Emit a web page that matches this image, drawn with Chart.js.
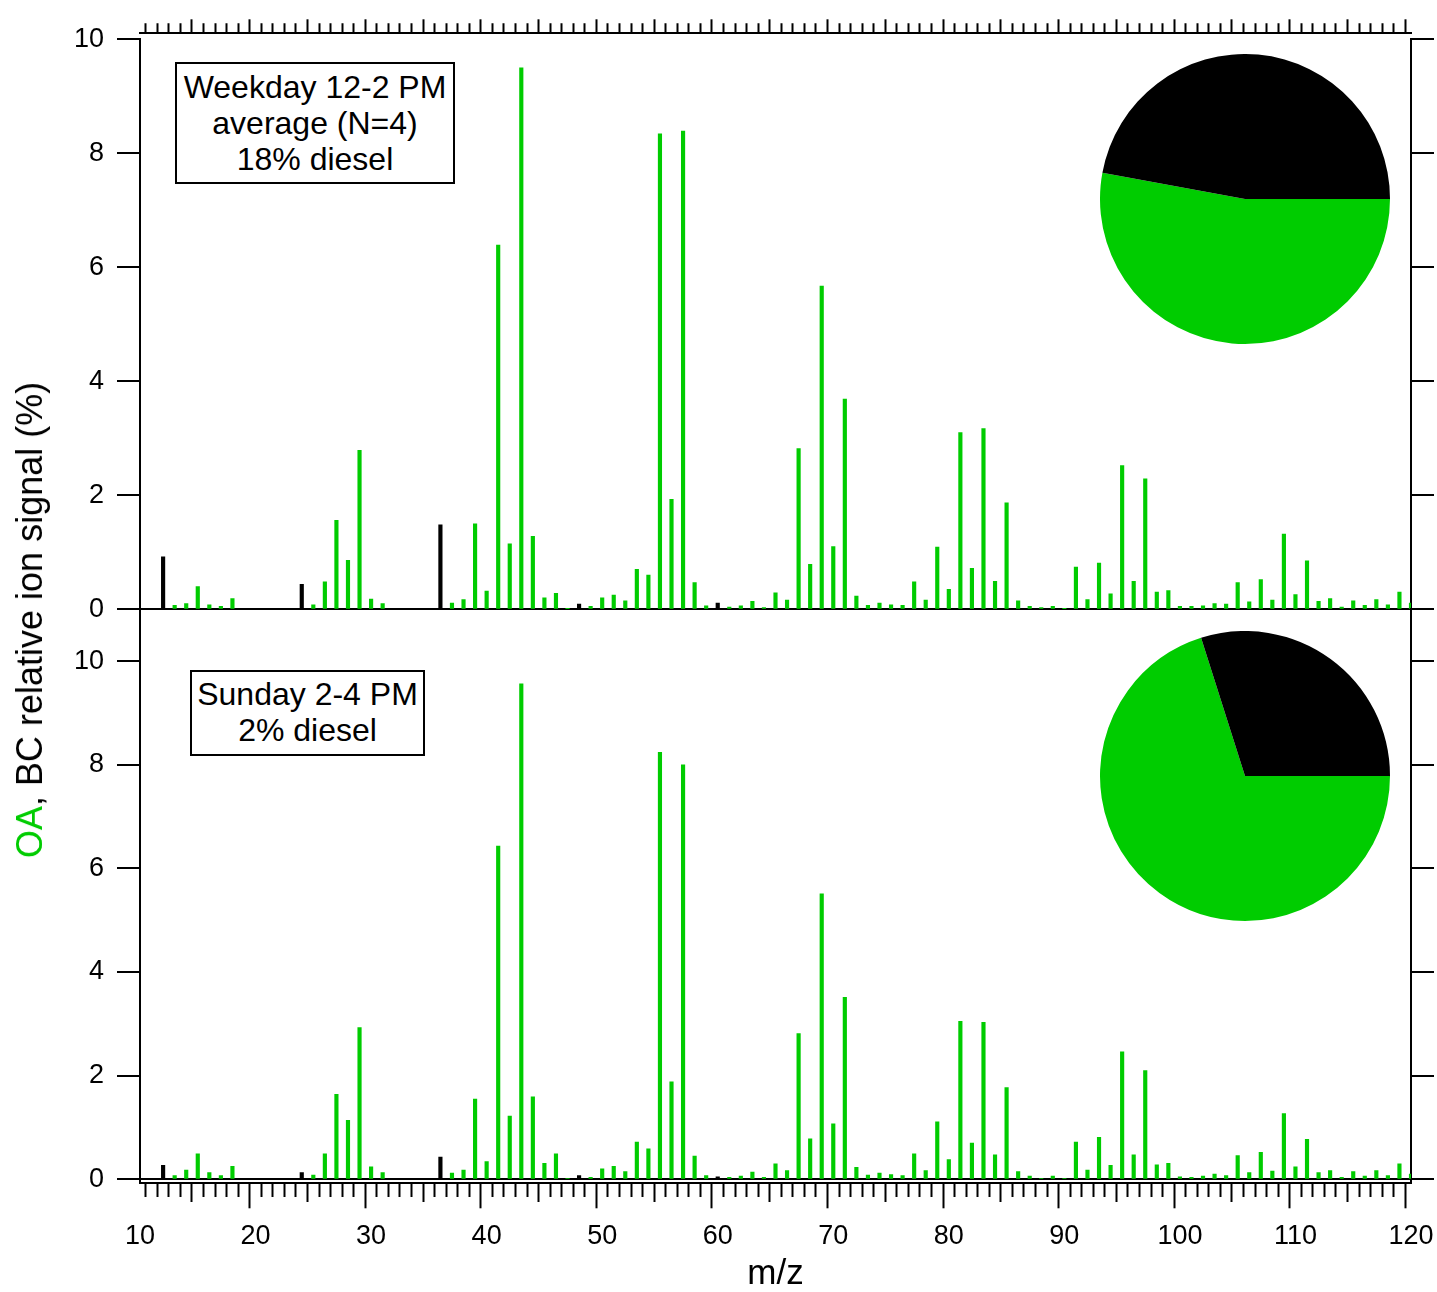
<!DOCTYPE html>
<html>
<head>
<meta charset="utf-8">
<script src="https://cdn.jsdelivr.net/npm/chart.js@4.4.1/dist/chart.umd.min.js"></script>
<style>
html,body{margin:0;padding:0;background:#fff;}
body{width:1437px;height:1292px;position:relative;overflow:hidden;font-family:'Liberation Sans',Arial,Helvetica,sans-serif;color:#000;}
canvas{position:absolute;}
#cTop{left:0;top:0;}
#cBot{left:0;top:580px;}
#pieTop{left:1100px;top:54px;}
#pieBot{left:1100px;top:631px;}
.box{position:absolute;border:2px solid #000;box-sizing:border-box;text-align:center;font-size:32px;line-height:36px;background:#fff;white-space:nowrap;}
#boxTop{left:175px;top:62px;width:280px;height:122px;padding-top:5px;}
#boxBot{left:190px;top:670px;width:235px;height:86px;padding-top:4px;}
#ytitle{position:absolute;left:30px;top:620px;transform:translate(-50%,-50%) rotate(-90deg);white-space:nowrap;font-size:36px;line-height:36px;}
</style>
</head>
<body>
<canvas id="cTop" width="1437" height="640"></canvas>
<canvas id="cBot" width="1437" height="712"></canvas>
<canvas id="pieTop" width="290" height="290"></canvas>
<canvas id="pieBot" width="290" height="290"></canvas>
<div class="box" id="boxTop">Weekday 12-2 PM<br>average (N=4)<br>18% diesel</div>
<div class="box" id="boxBot">Sunday 2-4 PM<br>2% diesel</div>
<div id="ytitle"><span style="color:#00cc00">OA</span>, BC relative ion signal (%)</div>
<script>
// ---------------- DATA ----------------
const oaMz = [13,14,15,16,17,18,
  25,26,27,28,29,30,31,
  37,38,39,40,41,42,43,44,45,46,47,
  49,50,51,52,53,54,55,56,57,58,59,
  61,62,63,64,65,66,67,68,69,70,
  71,72,73,74,75,76,77,78,79,80,
  81,82,83,84,85,86,87,88,89,90,
  91,92,93,94,95,96,97,98,99,100,
  101,102,103,104,105,106,107,108,109,110,
  111,112,113,114,115,116,117,118,119,120];

const oaWeekday = [0.07,0.10,0.40,0.08,0.05,0.19,
  0.08,0.48,1.56,0.86,2.79,0.18,0.10,
  0.11,0.17,1.50,0.32,6.39,1.15,9.50,1.28,0.20,0.28,0.01,
  0.05,0.20,0.25,0.15,0.70,0.60,8.34,1.93,8.39,0.47,0.06,
  0.04,0.06,0.14,0.03,0.29,0.16,2.82,0.79,5.67,1.10,
  3.69,0.23,0.07,0.11,0.08,0.07,0.48,0.16,1.09,0.35,
  3.10,0.72,3.17,0.49,1.87,0.15,0.05,0.03,0.05,0.01,
  0.74,0.17,0.81,0.27,2.52,0.49,2.29,0.30,0.33,0.05,
  0.05,0.06,0.10,0.09,0.47,0.13,0.52,0.16,1.32,0.26,
  0.85,0.14,0.19,0.04,0.15,0.07,0.17,0.08,0.30,0.11];

const oaSunday = [0.07,0.18,0.49,0.13,0.07,0.25,
  0.08,0.49,1.64,1.14,2.93,0.24,0.13,
  0.12,0.18,1.55,0.34,6.43,1.22,9.56,1.59,0.31,0.49,0.02,
  0.04,0.20,0.25,0.15,0.72,0.59,8.24,1.88,8.00,0.45,0.07,
  0.04,0.06,0.14,0.04,0.30,0.17,2.81,0.78,5.51,1.07,
  3.51,0.23,0.08,0.12,0.09,0.07,0.49,0.17,1.11,0.38,
  3.05,0.70,3.03,0.47,1.77,0.15,0.06,0.02,0.06,0.02,
  0.72,0.18,0.81,0.27,2.46,0.47,2.10,0.28,0.31,0.05,
  0.04,0.06,0.10,0.07,0.46,0.13,0.52,0.16,1.27,0.24,
  0.77,0.13,0.17,0.04,0.15,0.06,0.17,0.07,0.30,0.10];

const bcMz = [12,24,36,48,60];
const bcWeekday = [0.92,0.44,1.48,0.09,0.11];
const bcSunday = [0.27,0.13,0.43,0.07,0.05];

// pie fractions (%): [OA, BC]
const pieLabels = ['OA','BC'];
const pieWeekday = [52.9,47.1];
const pieSunday = [70.1,29.9];

// axes / ticks
const xMin = 10, xMax = 120;
const xLabelValues = [10,20,30,40,50,60,70,80,90,100,110,120];
const yTickValues = [0,2,4,6,8,10];
const yTopRange = [0,10];
const yBotRange = [-0.077,11];

// ---------------- STYLE ----------------
const GREEN = '#00cc00';
const FONT = "'Liberation Sans', Arial, Helvetica, sans-serif";
const CLEAR = 'rgba(0,0,0,0)';
Chart.defaults.font.family = FONT;
Chart.defaults.color = '#000';

const xTickValues = [];
for (let v = xMin; v <= xMax; v++) xTickValues.push(v);

const toXY = (xs, ys) => xs.map((x, i) => ({x: x, y: ys[i]}));
const setTicks = arr => (s => { s.ticks = arr.map(v => ({value: v})); });
const tv = c => (c && c.tick) ? c.tick.value : null;

function yAxis(pos, range, showLabels) {
  return {
    type: 'linear', position: pos, min: range[0], max: range[1],
    afterBuildTicks: setTicks(yTickValues),
    afterFit: s => { s.width = (pos === 'left') ? 140 : 26; s.paddingTop = 0; s.paddingBottom = 0; },
    ticks: {display: showLabels, color: '#000', font: {family: FONT, size: 27}, padding: 13},
    grid: {
      drawOnChartArea: pos === 'left',
      color: c => tv(c) === 0 ? '#000' : CLEAR,
      lineWidth: 2, tickLength: 23, tickColor: '#000', tickWidth: 2
    },
    border: {display: true, color: '#000', width: 2}
  };
}

function barSets(oa, bc) {
  return [
    {label: 'OA', data: toXY(oaMz, oa), backgroundColor: GREEN},
    {label: 'BC', data: toXY(bcMz, bc), backgroundColor: '#000'}
  ];
}

const common = {
  responsive: false, animation: false, devicePixelRatio: 1,
  plugins: {legend: {display: false}, tooltip: {enabled: false}},
  datasets: {bar: {grouped: false, barThickness: 3.5, borderWidth: 0}}
};

// top panel
new Chart(document.getElementById('cTop'), {
  type: 'bar',
  data: {datasets: barSets(oaWeekday, bcWeekday)},
  options: Object.assign({}, common, {
    layout: {padding: {left: 0, right: 0, top: 0, bottom: 640 - 609.3}},
    scales: {
      x: {
        type: 'linear', position: 'top', min: xMin, max: xMax, offset: false,
        afterBuildTicks: setTicks(xTickValues),
        afterFit: s => { s.height = 39.3; s.paddingLeft = 0; s.paddingRight = 0; },
        ticks: {display: false},
        grid: {
          drawOnChartArea: false, tickLength: 14, tickWidth: 2,
          tickColor: c => tv(c) === xMin ? CLEAR : '#000',
          tickBorderDash: c => (tv(c) !== null && tv(c) % 5 === 0) ? [] : [0, 4, 10, 100]
        },
        border: {display: true, color: '#000', width: 2}
      },
      y: yAxis('left', yTopRange, true),
      yR: yAxis('right', yTopRange, false)
    }
  }),
  plugins: [{
    id: 'standoff',
    afterLayout(chart) { const s = chart.scales.x; s.top -= 6; s.bottom -= 6; }
  }]
});

// bottom panel
new Chart(document.getElementById('cBot'), {
  type: 'bar',
  data: {datasets: barSets(oaSunday, bcSunday)},
  options: Object.assign({}, common, {
    layout: {padding: {left: 0, right: 0, top: 29.3, bottom: 0}},
    scales: {
      x: {
        type: 'linear', position: 'bottom', min: xMin, max: xMax, offset: false,
        afterBuildTicks: setTicks(xTickValues),
        afterFit: s => { s.height = 108.7; s.paddingLeft = 0; s.paddingRight = 0; },
        ticks: {
          autoSkip: false, maxRotation: 0, minRotation: 0, padding: 12.5,
          color: '#000', font: {family: FONT, size: 27},
          callback: v => xLabelValues.includes(v) ? String(v) : ''
        },
        grid: {
          drawOnChartArea: false, tickLength: 25, tickWidth: 2, tickColor: '#000',
          tickBorderDash: c => {
            const v = tv(c);
            if (v === null || v % 10 === 0) return [];
            return v % 5 === 0 ? [18, 100] : [13, 100];
          }
        },
        border: {display: true, color: '#000', width: 2},
        title: {display: true, text: 'm/z', color: '#000', font: {family: FONT, size: 35, lineHeight: 1}, padding: {top: 0, bottom: 0.5}}
      },
      y: yAxis('left', yBotRange, true),
      yR: yAxis('right', yBotRange, false)
    }
  })
});

// pies
function pie(id, values) {
  new Chart(document.getElementById(id), {
    type: 'pie',
    data: {labels: pieLabels, datasets: [{data: values, backgroundColor: [GREEN, '#000'], borderWidth: 0, hoverOffset: 0}]},
    options: {
      responsive: false, animation: false, devicePixelRatio: 1, rotation: 90,
      layout: {padding: 0},
      plugins: {legend: {display: false}, tooltip: {enabled: false}}
    }
  });
}
pie('pieTop', pieWeekday);
pie('pieBot', pieSunday);
</script>
</body>
</html>
